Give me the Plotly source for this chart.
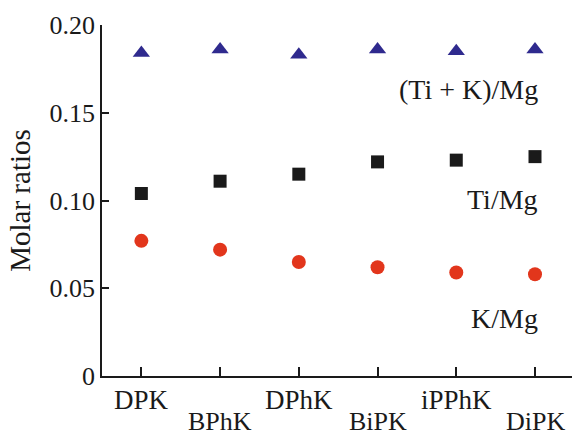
import plotly.graph_objects as go

categories = ["DPK", "BPhK", "DPhK", "BiPK", "iPPhK", "DiPK"]
ti_k_mg = [0.184, 0.186, 0.183, 0.186, 0.185, 0.186]
ti_mg = [0.104, 0.111, 0.115, 0.122, 0.123, 0.125]
k_mg = [0.077, 0.072, 0.065, 0.062, 0.059, 0.058]
series_labels = ["(Ti + K)/Mg", "Ti/Mg", "K/Mg"]
label_y = [0.163, 0.1003, 0.033]
y_ticks = [0, 0.05, 0.10, 0.15, 0.20]
y_ticktext = ["0", "0.05", "0.10", "0.15", "0.20"]

FONT = "Liberation Serif"
FS = 26
xs = list(range(len(categories)))

fig = go.Figure()
fig.add_trace(go.Scatter(x=xs, y=ti_k_mg, mode="markers",
                         marker=dict(symbol="triangle-up", size=15, color="#2f2a8e")))
fig.add_trace(go.Scatter(x=xs, y=ti_mg, mode="markers",
                         marker=dict(symbol="square", size=13, color="#1a1a1a")))
fig.add_trace(go.Scatter(x=xs, y=k_mg, mode="markers",
                         marker=dict(symbol="circle", size=14, color="#e2361c")))

for lab, ly in zip(series_labels, label_y):
    fig.add_annotation(x=0.932, xref="paper", y=ly, yref="y", text=lab,
                       showarrow=False, xanchor="right", yanchor="middle",
                       font=dict(family=FONT, size=28, color="#1a1a1a"))

for i, c in enumerate(categories):
    fig.add_annotation(x=i, xref="x", y=0, yref="paper", text=c, showarrow=False,
                       xanchor="center", yanchor="middle",
                       yshift=-24 if i % 2 == 0 else -45,
                       font=dict(family=FONT, size=26 if i % 2 else 27, color="#1a1a1a"))

fig.update_layout(
    width=572, height=437,
    margin=dict(l=102, r=0, t=25, b=61),
    paper_bgcolor="white", plot_bgcolor="white",
    showlegend=False,
    font=dict(family=FONT, size=FS, color="#1a1a1a"),
    xaxis=dict(range=[-0.5, 5.47], tickvals=xs, ticktext=[""] * len(xs),
               showgrid=False, zeroline=False, showline=True, linecolor="#1a1a1a",
               linewidth=1.5, ticks="inside", ticklen=9, tickcolor="#1a1a1a", tickwidth=1.5),
    yaxis=dict(range=[0, 0.2], tickvals=y_ticks, ticktext=y_ticktext,
               showgrid=False, zeroline=False, showline=True, linecolor="#1a1a1a",
               linewidth=1.5, ticks="inside", ticklen=7, tickcolor="#1a1a1a", tickwidth=1.5,
               title=dict(text="Molar ratios", font=dict(family=FONT, size=29), standoff=10)),
)

fig.write_html("out.html")
